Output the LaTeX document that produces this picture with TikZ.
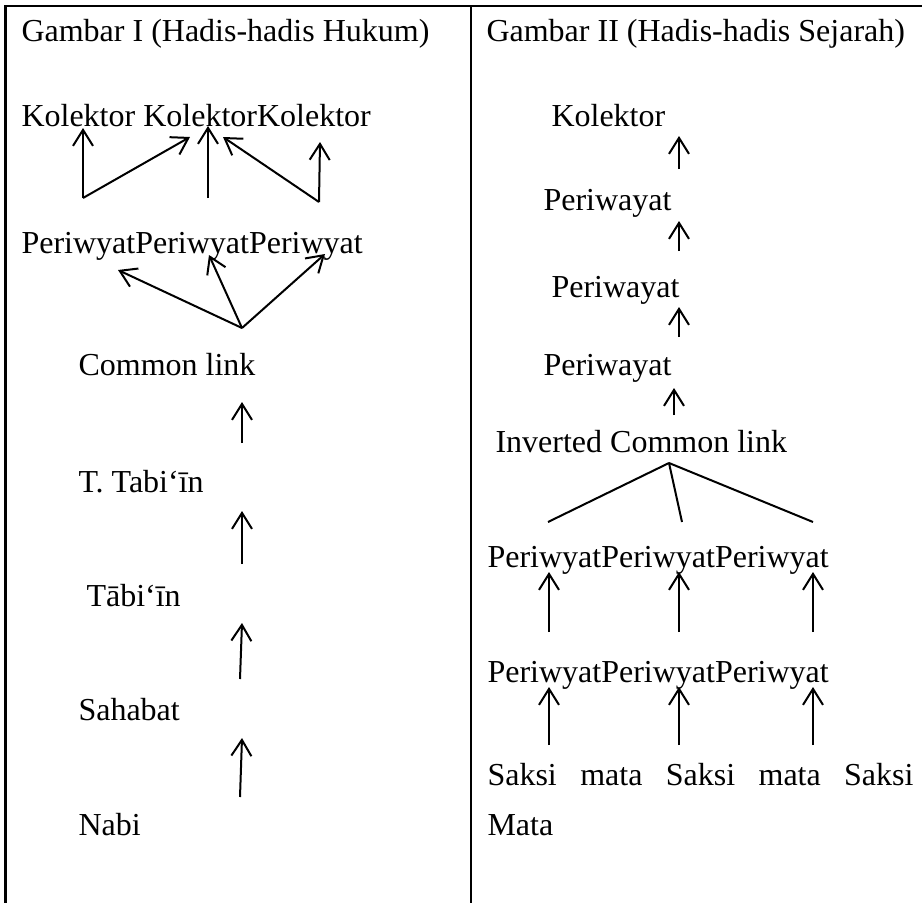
\documentclass[tikz,border=0pt]{standalone}
\usepackage{fontspec}
\setmainfont{Liberation Serif}
\usetikzlibrary{arrows.meta}

\tikzset{
    txt/.style={anchor=base west, inner sep=0pt, font=\fontsize{12}{14}\selectfont},
    up/.style={-{Straight Barb[length=6pt, width=7.5pt]}, line width=0.75pt},
    tableline/.style={line width=0.95pt}
}

\begin{document}
\begin{tikzpicture}[x=0.375pt, y=-0.375pt]
    \useasboundingbox (0,0) rectangle (922,903);

    % Table lines
    \coordinate (TL) at (5.5,6);
    \coordinate (TR) at (922,6);
    \coordinate (BL) at (5.5,903);
    \coordinate (MT) at (471,6);
    \coordinate (MB) at (471,903);
    \draw[tableline] (BL) -- (TL) -- (TR);
    \draw[tableline] (MT) -- (MB);

    % Left column: texts
    \node[txt] (judulA) at (21,42) {Gambar I (Hadis-hadis Hukum)};
    \node[txt] (kolA) at (21,126) {Kolektor KolektorKolektor};
    \node[txt] (perA) at (21,253) {PeriwyatPeriwyatPeriwyat};
    \node[txt] (cl) at (78,375) {Common link};
    \node[txt] (ttabiin) at (78,492) {T. Tabi‘īn};
    \node[txt] (tabiin) at (86,606) {Tābi‘īn};
    \node[txt] (sahabat) at (78,720) {Sahabat};
    \node[txt] (nabi) at (78,835) {Nabi};

    % Left column: coordinates for the arrows
    \coordinate (k1) at (83,128);
    \coordinate (k2) at (190,137);
    \coordinate (k3) at (208,126);
    \coordinate (k4) at (223,137);
    \coordinate (k5) at (320,142);
    \coordinate (pa) at (83,198);
    \coordinate (pb) at (208,198);
    \coordinate (pc) at (319,202);
    \coordinate (p1) at (118,270);
    \coordinate (p2) at (209,255);
    \coordinate (p3) at (325,254);
    \coordinate (clTop) at (242,328);
    \coordinate (clIn) at (242,402);
    \coordinate (ttOut) at (242,443);
    \coordinate (ttIn) at (242,511);
    \coordinate (tbOut) at (242,564);
    \coordinate (tbIn) at (242,623);
    \coordinate (shOut) at (240,679);
    \coordinate (shIn) at (242,738);
    \coordinate (nbOut) at (240,797);

    % Left column: arrows
    \draw[up] (pa) -- (k1);
    \draw[up] (pa) -- (k2);
    \draw[up] (pb) -- (k3);
    \draw[up] (pc) -- (k4);
    \draw[up] (pc) -- (k5);
    \draw[up] (clTop) -- (p1);
    \draw[up] (clTop) -- (p2);
    \draw[up] (clTop) -- (p3);
    \draw[up] (ttOut) -- (clIn);
    \draw[up] (tbOut) -- (ttIn);
    \draw[up] (shOut) -- (tbIn);
    \draw[up] (nbOut) -- (shIn);

    % Right column: texts
    \node[txt] (judulB) at (486,42) {Gambar II (Hadis-hadis Sejarah)};
    \node[txt] (kolB) at (551,126) {Kolektor};
    \node[txt] (rw1) at (543,210) {Periwayat};
    \node[txt] (rw2) at (551,297) {Periwayat};
    \node[txt] (rw3) at (543,375) {Periwayat};
    \node[txt] (icl) at (495,452) {Inverted Common link};
    \node[txt] (perB) at (487,567) {PeriwyatPeriwyatPeriwyat};
    \node[txt] (perC) at (487,682) {PeriwyatPeriwyatPeriwyat};
    \node[txt] (saksi) at (487,785) {\hbox to 159.75pt{Saksi\hfill mata\hfill Saksi\hfill mata\hfill Saksi}};
    \node[txt] (mata) at (487,835) {Mata};

    % Right column: coordinates for the arrows
    \coordinate (r1Out) at (679,169);
    \coordinate (r1In) at (679,136);
    \coordinate (r2Out) at (679,251);
    \coordinate (r2In) at (679,221);
    \coordinate (r3Out) at (679,337);
    \coordinate (r3In) at (679,307);
    \coordinate (iOut) at (674,415);
    \coordinate (iIn) at (674,388);
    \coordinate (apex) at (669,463);
    \coordinate (f1) at (548,522);
    \coordinate (f2) at (682,522);
    \coordinate (f3) at (813,522);

    % Right column: lines and arrows
    \draw[line width=0.75pt] (apex) -- (f1);
    \draw[line width=0.75pt] (apex) -- (f2);
    \draw[line width=0.75pt] (apex) -- (f3);
    \draw[up] (r1Out) -- (r1In);
    \draw[up] (r2Out) -- (r2In);
    \draw[up] (r3Out) -- (r3In);
    \draw[up] (iOut) -- (iIn);
    \foreach \x/\n in {549/a, 679/b, 813/c} {
        \coordinate (b\n Out) at (\x,632);
        \coordinate (b\n In) at (\x,572);
        \coordinate (c\n Out) at (\x,745);
        \coordinate (c\n In) at (\x,687);
        \draw[up] (b\n Out) -- (b\n In);
        \draw[up] (c\n Out) -- (c\n In);
    }
\end{tikzpicture}
\end{document}
